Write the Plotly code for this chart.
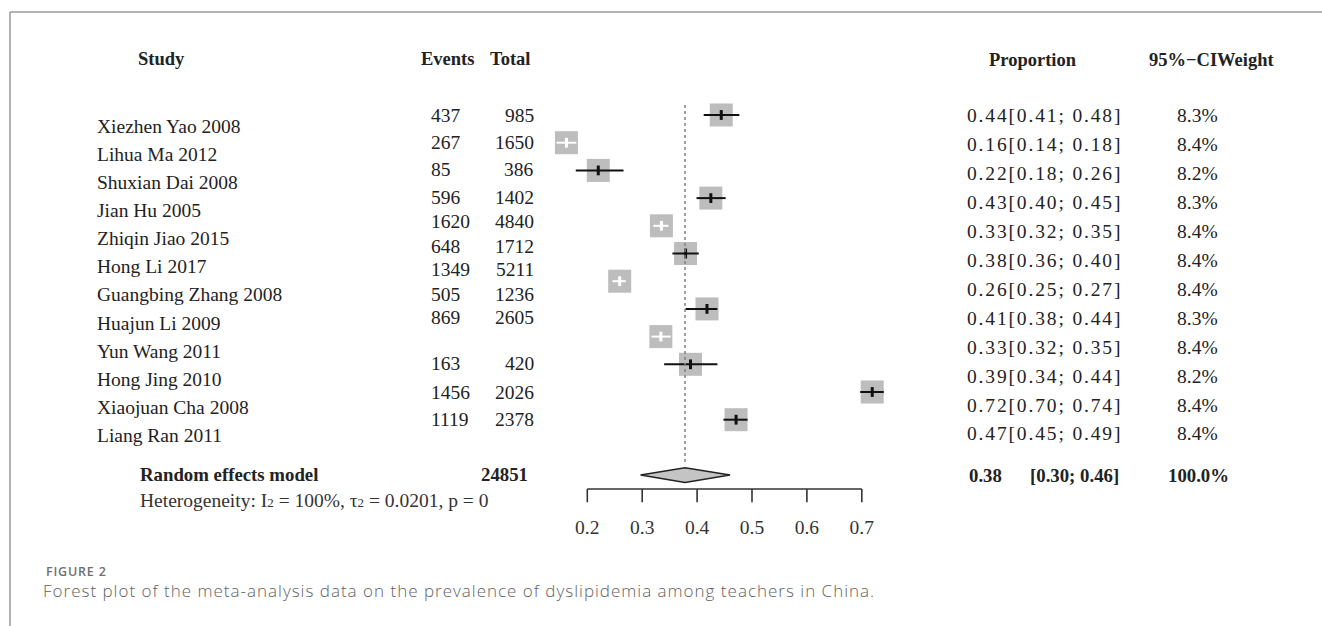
import plotly.graph_objects as go

# ---------------- data ----------------
studies = ["Xiezhen Yao 2008", "Lihua Ma 2012", "Shuxian Dai 2008", "Jian Hu 2005",
           "Zhiqin Jiao 2015", "Hong Li 2017", "Guangbing Zhang 2008", "Huajun Li 2009",
           "Yun Wang 2011", "Hong Jing 2010", "Xiaojuan Cha 2008", "Liang Ran 2011"]
events = [437, 267, 85, 596, 1620, 648, 1349, 505, 869, 163, 1456, 1119]
totals = [985, 1650, 386, 1402, 4840, 1712, 5211, 1236, 2605, 420, 2026, 2378]
prop_plot = [0.444, 0.162, 0.220, 0.425, 0.335, 0.379, 0.259, 0.418, 0.334, 0.388, 0.719, 0.471]
ci_lo = [0.412, 0.144, 0.179, 0.399, 0.320, 0.355, 0.246, 0.379, 0.317, 0.340, 0.697, 0.448]
ci_hi = [0.477, 0.180, 0.266, 0.452, 0.348, 0.403, 0.270, 0.437, 0.352, 0.437, 0.740, 0.492]
prop_labels = ["0.44[0.41; 0.48]", "0.16[0.14; 0.18]", "0.22[0.18; 0.26]", "0.43[0.40; 0.45]",
               "0.33[0.32; 0.35]", "0.38[0.36; 0.40]", "0.26[0.25; 0.27]", "0.41[0.38; 0.44]",
               "0.33[0.32; 0.35]", "0.39[0.34; 0.44]", "0.72[0.70; 0.74]", "0.47[0.45; 0.49]"]
weights = ["8.3%", "8.4%", "8.2%", "8.3%", "8.4%", "8.4%", "8.4%", "8.3%", "8.4%", "8.2%", "8.4%", "8.4%"]
pooled_est = 0.378
pooled_lo = 0.297
pooled_hi = 0.460
pooled_total = "24851"
pooled_labels = ["0.38", "[0.30; 0.46]", "100.0%"]
tick_vals = [0.2, 0.3, 0.4, 0.5, 0.6, 0.7]
heterogeneity = ("Heterogeneity: I<span style='font-size:13px'>2</span> = 100%, "
                 "\u03c4<span style='font-size:13px'>2</span> = 0.0201, p = 0")
caption_tag = "FIGURE 2"
caption = "Forest plot of the meta-analysis data on the prevalence of dyslipidemia among teachers in China."

# ---------------- layout constants ----------------
W, H = 1322, 626
PX0, PXU = 587.3, 549.0      # pixel of x=0.2, pixels per unit
Y0, DY = 115.0, 27.7         # pixel of row 0, pixels per row
SQ = 23                      # square size (px)
SERIF = "Liberation Serif, Times New Roman, serif"
TXT = "#222222"

xr = [0.2 - PX0 / PXU, 0.2 + (W - PX0) / PXU]
yr = [(H - Y0) / DY, -Y0 / DY]

rows = list(range(len(studies)))
fig = go.Figure()

# squares
fig.add_trace(go.Scatter(x=prop_plot, y=rows, mode="markers",
                         marker=dict(symbol="square", size=SQ, color="#bdbdbd", line=dict(width=0)),
                         hoverinfo="skip", showlegend=False))

# CI lines (white when inside the square)
box_w = SQ / PXU
for col in ["#111111", "#ffffff"]:
    xs, ys, px, py = [], [], [], []
    for i in rows:
        inside = (ci_hi[i] - ci_lo[i]) <= box_w
        if (col == "#ffffff") == inside:
            xs += [ci_lo[i], ci_hi[i], None]
            ys += [i, i, None]
            px.append(prop_plot[i]); py.append(i)
    fig.add_trace(go.Scatter(x=xs, y=ys, mode="lines", line=dict(color=col, width=2),
                             hoverinfo="skip", showlegend=False))
    fig.add_trace(go.Scatter(x=px, y=py, mode="markers",
                             marker=dict(symbol="line-ns", size=7, line=dict(color=col, width=3)),
                             hoverinfo="skip", showlegend=False))

# dotted reference line at pooled estimate
fig.add_trace(go.Scatter(x=[pooled_est, pooled_est], y=[-0.36, 12.64], mode="lines",
                         line=dict(color="#808080", width=1.5, dash="dot"),
                         hoverinfo="skip", showlegend=False))

# diamond
dy = 0.264
fig.add_trace(go.Scatter(x=[pooled_lo, pooled_est, pooled_hi, pooled_est, pooled_lo],
                         y=[13, 13 - dy, 13, 13 + dy, 13], mode="lines", fill="toself",
                         fillcolor="#c4c4c4", line=dict(color="#222222", width=1.5),
                         hoverinfo="skip", showlegend=False))

# x axis drawn manually
AX_Y = 13.5
TK_Y = 13.98
ax_x, ax_y = [tick_vals[0], tick_vals[-1], None], [AX_Y, AX_Y, None]
for t in tick_vals:
    ax_x += [t, t, None]
    ax_y += [AX_Y, TK_Y, None]
fig.add_trace(go.Scatter(x=ax_x, y=ax_y, mode="lines", line=dict(color="#333333", width=1.6),
                         hoverinfo="skip", showlegend=False))
fig.add_trace(go.Scatter(x=tick_vals, y=[14.95] * len(tick_vals), mode="text",
                         text=[f"{t:.1f}" for t in tick_vals],
                         textfont=dict(family=SERIF, size=19.5, color="#333333"),
                         hoverinfo="skip", showlegend=False))

ann = []


def add_text(px, py, text, anchor="left", size=19.5, bold=False, color=TXT, family=SERIF, weight=None):
    w = weight if weight is not None else ("bold" if bold else "normal")
    ann.append(dict(x=px / W, y=1 - py / H, xref="paper", yref="paper", text=text,
                    showarrow=False, xanchor=anchor, yanchor="middle",
                    font=dict(family=family, size=size, color=color, weight=w)))


# headers
add_text(161.7, 59, "Study", "center", 18.5, True)
add_text(419, 59, "Events", "left", 18.5, True)
add_text(532, 59, "Total", "right", 18.5, True)
add_text(1032.5, 60, "Proportion", "center", 18.5, True)
add_text(1211, 60, "95%\u2212CIWeight", "center", 18.5, True)

# study rows
NAME_Y0, NAME_DY = 126, 28.16
events_y = [116, 142.7, 170, 197.7, 221.7, 246, 270, 294.3, 317.7, 363.3, 392.3, 419]
PROP_Y0, PROP_DY = 116, 28.9
for i in rows:
    add_text(95, NAME_Y0 + i * NAME_DY, studies[i], "left", 19.5)
    add_text(429, events_y[i], str(events[i]), "left", 19.5)
    add_text(536, events_y[i], str(totals[i]), "right", 19.5)
    add_text(965, PROP_Y0 + i * PROP_DY,
             f"<span style='letter-spacing:1.85px'>{prop_labels[i]}</span>", "left", 19.5)
    add_text(1197, PROP_Y0 + i * PROP_DY, weights[i], "center", 19.5)

# pooled row
add_text(138, 474, "Random effects model", "left", 18.8, True)
add_text(530, 474, pooled_total, "right", 18.8, True)
add_text(138, 500, heterogeneity, "left", 19.5, color="#333333")
add_text(967, 475, pooled_labels[0], "left", 18.8, True)
add_text(1121, 475, pooled_labels[1], "right", 18.8, True)
add_text(1198, 475, pooled_labels[2], "center", 18.8, True)

# caption
CAP_FONT = "Open Sans, sans-serif"
add_text(44, 571, f"<span style='letter-spacing:0.8px'>{caption_tag}</span>", "left", 12.5,
         color="#6f6f6f", family=CAP_FONT, weight=600)
add_text(41, 590, f"<span style='letter-spacing:1px'>{caption}</span>", "left", 17,
         color="#5f5f5f", family=CAP_FONT, weight=300)

shapes = [
    dict(type="line", xref="paper", yref="paper", x0=10 / W, x1=1, y0=1 - 12 / H, y1=1 - 12 / H,
         line=dict(color="#9a9a9a", width=1.5)),
    dict(type="line", xref="paper", yref="paper", x0=10 / W, x1=10 / W, y0=1 - 12 / H, y1=0,
         line=dict(color="#9a9a9a", width=1.5)),
]

fig.update_layout(
    width=W, height=H, margin=dict(l=0, r=0, t=0, b=0),
    paper_bgcolor="white", plot_bgcolor="white",
    xaxis=dict(range=xr, visible=False, fixedrange=True),
    yaxis=dict(range=yr, visible=False, fixedrange=True),
    annotations=ann, shapes=shapes, showlegend=False,
)

fig.write_html("out.html", config={"displayModeBar": False},
               post_script="document.body.style.margin='0';document.body.style.overflow='hidden';")
